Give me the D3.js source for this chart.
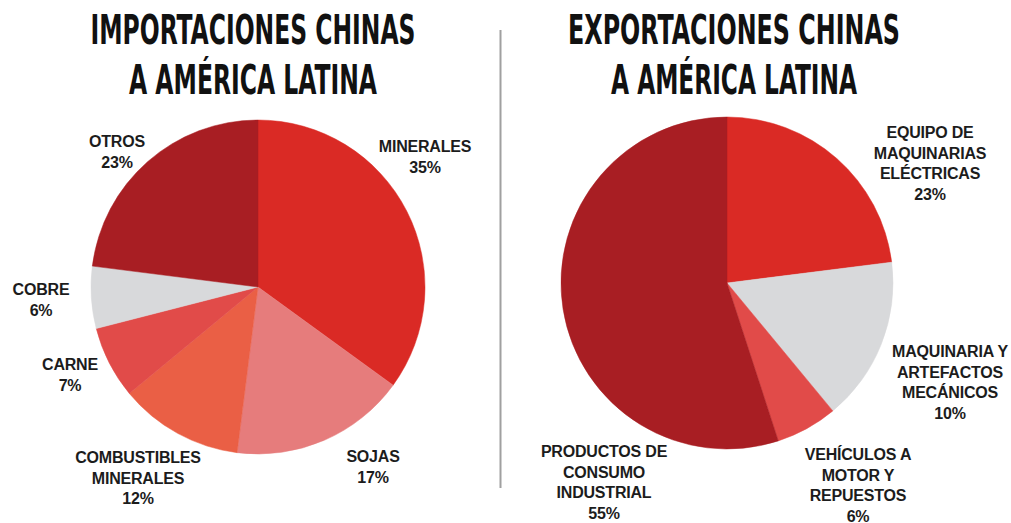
<!DOCTYPE html>
<html>
<head>
<style>
html, body {
    margin: 0;
    padding: 0;
    background: #fff;
    overflow: hidden;
}
svg text {
    font-family: "Liberation Sans", Arial, sans-serif;
    font-weight: bold;
    fill: #1c1c1c;
}
</style>
</head>
<body>
<script src="https://d3js.org/d3.v7.min.js"></script>
<script>
// data
const importCats = ["MINERALES", "SOJAS", "COMBUSTIBLES MINERALES", "CARNE", "COBRE", "OTROS"];
const importValues = [35, 17, 12, 7, 6, 23];
const importLabels = ["35%", "17%", "12%", "7%", "6%", "23%"];

const exportCats = ["EQUIPO DE MAQUINARIAS ELÉCTRICAS", "MAQUINARIA Y ARTEFACTOS MECÁNICOS", "VEHÍCULOS A MOTOR Y REPUESTOS", "PRODUCTOS DE CONSUMO INDUSTRIAL"];
// slice sizes as drawn (the label of the grey slice says 10%)
const exportValues = [23, 16, 6, 55];
const exportLabels = ["23%", "10%", "6%", "55%"];

const [width, height] = [1011, 523];

const svg = d3.select("body").append("svg")
    .attr("width", width)
    .attr("height", height);

// divider
svg.append("line")
    .attr("x1", 500.5).attr("x2", 500.5)
    .attr("y1", 30).attr("y2", 488)
    .attr("stroke", "#a0a0a0")
    .attr("stroke-width", 2);

const drawTitle = (lines, cx, widths) => {
    lines.forEach((t, i) => {
        svg.append("text")
            .attr("x", cx)
            .attr("y", 44 + i * 50)
            .attr("text-anchor", "middle")
            .attr("textLength", widths[i])
            .attr("lengthAdjust", "spacingAndGlyphs")
            .style("font-family", "'Liberation Sans Narrow', 'DejaVu Sans Condensed', 'Liberation Sans', sans-serif")
            .style("font-size", "40px")
            .style("fill", "#111")
            .text(t);
    });
};

const drawPie = ({cats, values, labels, colors, cx, cy, r, labelPos}) => {
    const pie = d3.pie().sort(null).value(d => d.value);
    const arc = d3.arc().innerRadius(0).outerRadius(r);
    const rows = cats.map((c, i) => ({cat: c, value: values[i], label: labels[i]}));

    const g = svg.append("g").attr("transform", `translate(${cx},${cy})`);
    g.selectAll("path")
        .data(pie(rows))
        .join("path")
            .attr("d", arc)
            .attr("fill", (d, i) => colors[i])
            .attr("stroke", (d, i) => colors[i])
            .attr("stroke-width", 0.5);

    rows.forEach((d, i) => {
        const [lx, ly] = labelPos[i];
        const words = d.cat.split(" ");
        const lines = labelPos[i][2](words);
        const txt = svg.append("text")
            .attr("text-anchor", "middle")
            .style("font-size", "16px")
            .style("letter-spacing", "-0.2px");
        lines.concat([d.label]).forEach((t, j) => {
            txt.append("tspan")
                .attr("x", lx)
                .attr("y", ly + j * 20.5)
                .text(t);
        });
    });
};

const one = w => [w.join(" ")];
const split = (...n) => w => {
    const out = [];
    let k = 0;
    n.forEach(c => { out.push(w.slice(k, k + c).join(" ")); k += c; });
    return out;
};

drawTitle(["IMPORTACIONES CHINAS", "A AMÉRICA LATINA"], 253, [325, 248]);
drawTitle(["EXPORTACIONES CHINAS", "A AMÉRICA LATINA"], 734, [332, 246]);

drawPie({
    cats: importCats,
    values: importValues,
    labels: importLabels,
    colors: ["#da2a25", "#e67c7c", "#ea5f45", "#e14b49", "#d8d9db", "#a81e23"],
    cx: 258, cy: 287, r: 167,
    labelPos: [
        [425, 152, one],
        [373, 462, one],
        [138, 463, split(1, 1)],
        [70, 370, one],
        [41, 295, one],
        [117, 147, one]
    ]
});

drawPie({
    cats: exportCats,
    values: exportValues,
    labels: exportLabels,
    colors: ["#da2a25", "#d8d9db", "#e14b49", "#a81e23"],
    cx: 727, cy: 283, r: 166,
    labelPos: [
        [930, 138, split(2, 1, 1)],
        [950, 357, split(2, 1, 1)],
        [858, 460, split(2, 2, 1)],
        [604, 457, split(2, 1, 1)]
    ]
});
</script>
</body>
</html>
